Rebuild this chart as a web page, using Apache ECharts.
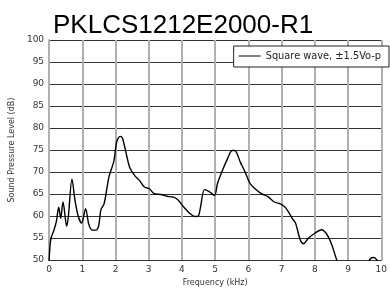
<!DOCTYPE html>
<html>
<head>
<meta charset="utf-8">
<title>PKLCS1212E2000-R1</title>
<style>
  html, body { margin: 0; padding: 0; background: #fff; }
  #chart { width: 390px; height: 292px; }
</style>
<script src="https://cdn.jsdelivr.net/npm/echarts@6/dist/echarts.min.js"></script>
</head>
<body>
<div id="chart"></div>
<script>
// frequency (kHz)
var freq = [0, 0.05, 0.15, 0.22, 0.29, 0.35, 0.42, 0.53, 0.58, 0.69, 0.78, 0.88, 0.98, 1.1, 1.2, 1.31, 1.41,
  1.49, 1.56, 1.66, 1.8, 1.95, 2.04, 2.14, 2.21, 2.34, 2.43, 2.58, 2.73, 2.87, 3.02, 3.16, 3.36, 3.55,
  3.75, 3.89, 4.05, 4.24, 4.39, 4.49, 4.56, 4.68, 4.83, 4.98, 5.07, 5.22, 5.37, 5.51, 5.59, 5.76, 5.9,
  6.05, 6.2, 6.39, 6.59, 6.78, 6.98, 7.13, 7.32, 7.42, 7.56, 7.66, 7.81, 8.0, 8.2, 8.34, 8.49, 8.66,
  8.8, 9.2, 9.6, 9.7, 9.78, 9.86, 10];
// sound pressure level (dB)
var spl = [49.5, 54.7, 56.9, 58.8, 62, 59.5, 63.2, 57.7, 59.9, 68.4, 63.6, 59.9, 58.4, 61.7, 58, 56.8, 56.8,
  57.7, 61.4, 62.9, 68.8, 72.5, 77, 78.1, 77.7, 73.6, 71, 69.2, 68, 66.6, 66.2, 65.1, 64.9, 64.5,
  64.3, 63.6, 62.1, 60.6, 59.9, 60, 62.1, 66, 65.5, 64.7, 67.4, 70.4, 73, 74.9, 74.9, 72.2, 70,
  67.4, 66.2, 65.1, 64.4, 63.2, 62.7, 61.8, 59.5, 58.4, 54.6, 53.7, 55, 56.1, 56.9, 56.1, 53.9, 50,
  47.5, 46, 49.6, 50.5, 50.6, 50.1, 48];
var xTicks = ['0', '1', '2', '3', '4', '5', '6', '7', '8', '9', '10'];

var points = freq.map(function (f, i) { return [f, spl[i]]; });
var font = 'DejaVu Sans';

var chart = echarts.init(document.getElementById('chart'));
chart.setOption({
  animation: false,
  title: {
    text: 'PKLCS1212E2000-R1',
    left: 48,
    top: 8,
    textStyle: { fontFamily: 'Liberation Sans', fontSize: 26, fontWeight: 'normal', color: '#000' }
  },
  legend: {
    right: 1,
    top: 46,
    orient: 'horizontal',
    icon: 'rect',
    itemWidth: 22,
    itemHeight: 1,
    itemGap: 2,
    padding: [5, 8, 6, 5],
    borderColor: '#222',
    borderWidth: 1,
    borderRadius: 0,
    backgroundColor: '#fff',
    textStyle: { fontFamily: font, fontSize: 9.8, color: '#222' }
  },
  grid: { left: 48, right: 1, top: 40, bottom: 28 },
  xAxis: {
    type: 'value',
    min: 0,
    max: 10,
    interval: 1,
    name: 'Frequency (kHz)',
    nameLocation: 'middle',
    nameGap: 18,
    nameTextStyle: { fontFamily: font, fontSize: 8, color: '#333' },
    axisLine: { show: true, lineStyle: { color: '#333', width: 1 } },
    axisTick: { show: false },
    axisLabel: {
      fontFamily: font, fontSize: 9, color: '#333', margin: 5,
      formatter: function (v) { return xTicks[Math.round(v)]; }
    },
    splitLine: { show: true, lineStyle: { color: '#b0b0b0', width: 2 } }
  },
  yAxis: {
    type: 'value',
    min: 50,
    max: 100,
    interval: 5,
    name: 'Sound Pressure Level (dB)',
    nameLocation: 'middle',
    nameGap: 33,
    nameTextStyle: { fontFamily: font, fontSize: 8, color: '#333' },
    axisLine: { show: true, lineStyle: { color: '#b0b0b0', width: 2 } },
    axisTick: { show: false },
    axisLabel: { fontFamily: font, fontSize: 9, color: '#333', margin: 5 },
    splitLine: { show: true, lineStyle: { color: '#333', width: 1 } }
  },
  series: [{
    name: 'Square wave, \u00b11.5Vo-p',
    type: 'line',
    data: points,
    smooth: 0.3,
    showSymbol: false,
    symbol: 'none',
    clip: true,
    lineStyle: { color: '#000', width: 1.4 },
    itemStyle: { color: '#000' }
  }]
});
</script>
</body>
</html>
